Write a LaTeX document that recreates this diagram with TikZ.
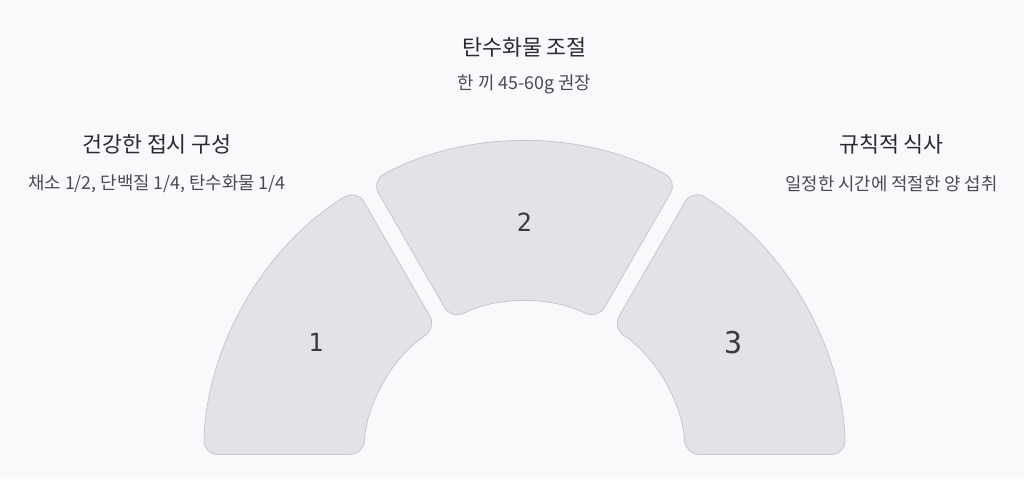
\documentclass[tikz,border=0pt]{standalone}
\usepackage{fontspec}
\setmainfont{Noto Sans CJK KR}
\newfontfamily\numfont{DejaVu Sans Mono}
\definecolor{bgcol}{HTML}{F9F9FB}
\definecolor{segfill}{HTML}{E2E2E9}
\definecolor{segline}{HTML}{C6C6CE}
\definecolor{headcol}{HTML}{2A2A32}
\definecolor{subcol}{HTML}{4A4A52}
\definecolor{numcol}{HTML}{3A3A42}

\begin{document}
\begin{tikzpicture}[x=1pt,y=1pt,
            seg/.style={draw=segline,fill=segfill,line width=0.8pt,rounded corners=14pt},
            head/.style={text=headcol,font=\fontsize{21.7}{24}\selectfont,inner sep=0pt},
            sub/.style={text=subcol,font=\fontsize{17.8}{20}\selectfont,inner sep=0pt},
            num/.style={text=numcol,inner sep=0pt}
            ]
            \useasboundingbox[fill=bgcol] (-524.5,-16) rectangle (499.5,463);
            \pgfmathsetmacro{\dout}{asin(8.5/321)}
            \pgfmathsetmacro{\din}{asin(8.5/161)}
            % the three parts of the half ring
            \foreach \a/\b in {120/180, 60/120, 0/60}{
                \draw[seg] (\a+\dout:321) arc[start angle=\a+\dout, end angle=\b-\dout, radius=321]
                    -- (\b-\din:161) arc[start angle=\b-\din, end angle=\a+\din, radius=161] -- cycle;
            }
            \foreach \a/\n/\s in {150/1/25, 90/2/25, 30/3/30}
                \node[num,font=\numfont\fontsize{\s}{\s}\selectfont] (n\n) at (\a:241) {\n};
            % texts
            \node[head] (carb) at (0,416) {탄수화물 조절};
            \node[sub] (carbsub) at (0,378.5) {한 끼 45-60g 권장};
            \node[head] (plate) at (-367.5,319) {건강한 접시 구성};
            \node[sub] (platesub) at (-367.5,279) {채소 1/2, 단백질 1/4, 탄수화물 1/4};
            \node[head] (meal) at (367,319) {규칙적 식사};
            \node[sub] (mealsub) at (367,279) {일정한 시간에 적절한 양 섭취};
\end{tikzpicture}
\end{document}
